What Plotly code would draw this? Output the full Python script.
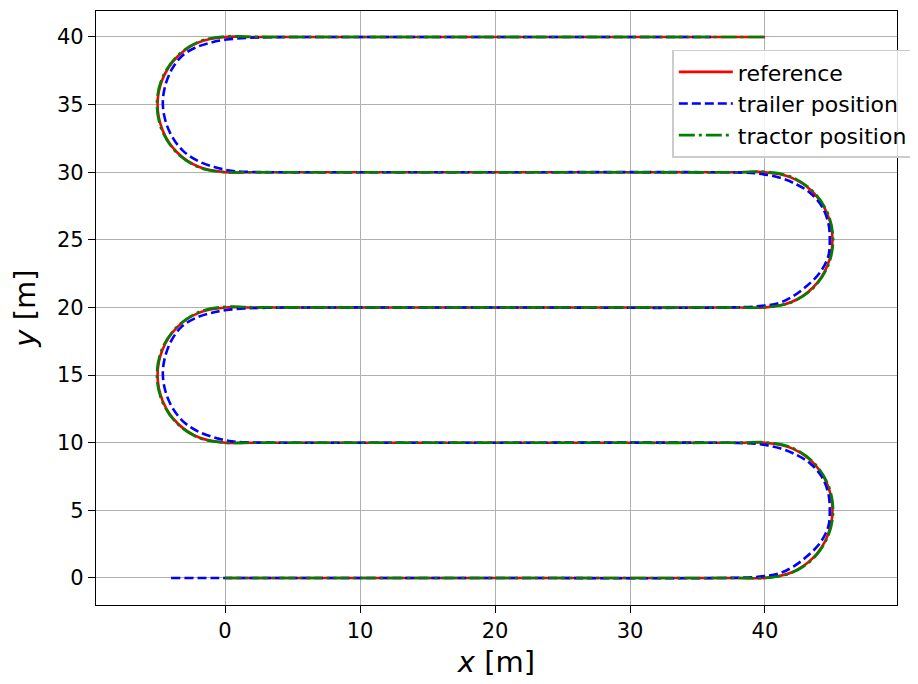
import plotly.graph_objects as go

# Reference path
ref_x = [0, 20, 38, 40, 41.91, 43.54, 44.62, 45, 44.62, 43.54, 41.91, 40, 38, 20, 2,
         0, -1.91, -3.54, -4.62, -5, -4.62, -3.54, -1.91, 0, 2, 20, 38,
         40, 41.91, 43.54, 44.62, 45, 44.62, 43.54, 41.91, 40, 38, 20, 2,
         0, -1.91, -3.54, -4.62, -5, -4.62, -3.54, -1.91, 0, 2, 20, 40]
ref_y = [0, 0, 0, 0, 0.38, 1.46, 3.09, 5, 6.91, 8.54, 9.62, 10, 10, 10, 10,
         10, 10.38, 11.46, 13.09, 15, 16.91, 18.54, 19.62, 20, 20, 20, 20,
         20, 20.38, 21.46, 23.09, 25, 26.91, 28.54, 29.62, 30, 30, 30, 30,
         30, 30.38, 31.46, 33.09, 35, 36.91, 38.54, 39.62, 40, 40, 40, 40]

# Trailer position
trailer_x = [-4, 20, 37, 39.6, 41.1, 42.1, 43.09, 44.07, 44.69, 44.8, 44.69, 44.2, 43.33, 42.35, 41.11, 39.5, 38, 36,
             20, 4, 2, 0.5, -0.74, -1.98, -3.09, -3.95, -4.44, -4.61, -4.44, -3.95, -3.21, -2.22, -1.11, 0.12, 1.85, 4, 6,
             20, 37, 39.6, 41.1, 42.1, 43.09, 44.07, 44.69, 44.8, 44.69, 44.2, 43.33, 42.35, 41.11, 39.5, 38, 36,
             20, 4, 2, 0.5, -0.74, -1.98, -3.09, -3.95, -4.44, -4.61, -4.44, -3.95, -3.21, -2.22, -1.11, 0.12, 1.85, 4, 6,
             20, 36]
trailer_y = [0, 0, 0, 0.1, 0.35, 0.84, 1.58, 2.57, 3.79, 5.03, 6.26, 7.49, 8.48, 9.09, 9.59, 9.9, 9.98, 10,
             10, 10, 10.02, 10.1, 10.37, 10.82, 11.56, 12.67, 13.9, 15.13, 16.36, 17.6, 18.58, 19.2, 19.57, 19.81, 19.94, 19.99, 20,
             20, 20, 20.1, 20.35, 20.84, 21.58, 22.57, 23.79, 25.03, 26.26, 27.49, 28.48, 29.09, 29.59, 29.9, 29.98, 30,
             30, 30, 30.02, 30.1, 30.37, 30.82, 31.56, 32.67, 33.9, 35.13, 36.36, 37.6, 38.58, 39.2, 39.57, 39.81, 39.94, 39.99, 40,
             40, 40]

# Tractor position
tractor_x = [0, 20, 38, 40, 41.93, 43.57, 44.67, 45.05, 44.67, 43.57, 41.93, 40, 38, 20, 2,
             0, -1.93, -3.57, -4.67, -5.05, -4.67, -3.57, -1.93, 0, 2, 20, 38,
             40, 41.93, 43.57, 44.67, 45.05, 44.67, 43.57, 41.93, 40, 38, 20, 2,
             0, -1.93, -3.57, -4.67, -5.05, -4.67, -3.57, -1.93, 0, 2, 20, 40]
tractor_y = [0, 0, 0, 0, 0.36, 1.43, 3.07, 5, 6.93, 8.57, 9.66, 10.03, 10, 10, 10,
             10, 10.36, 11.43, 13.07, 15, 16.93, 18.57, 19.66, 20.05, 20.02, 20, 20,
             20, 20.36, 21.43, 23.07, 25, 26.93, 28.57, 29.66, 30.03, 30, 30, 30,
             30, 30.36, 31.43, 33.07, 35, 36.93, 38.57, 39.66, 40.04, 40.01, 40, 40]

x_ticks = [0, 10, 20, 30, 40]
y_ticks = [0, 5, 10, 15, 20, 25, 30, 35, 40]

FONT = "DejaVu Sans, sans-serif"

fig = go.Figure()
fig.add_trace(go.Scatter(x=ref_x, y=ref_y, mode="lines", name="reference",
                         legendgroup="a",
                         line=dict(color="#ff0000", width=2.6, shape="spline", smoothing=1)))
fig.add_trace(go.Scatter(x=trailer_x, y=trailer_y, mode="lines", name="trailer position",
                         legendgroup="b",
                         line=dict(color="#0000ff", width=2.6, dash="9px,4px", shape="spline", smoothing=1)))
fig.add_trace(go.Scatter(x=tractor_x, y=tractor_y, mode="lines", name="tractor position",
                         legendgroup="c",
                         line=dict(color="#008000", width=2.6, dash="16px,4px,3px,4px", shape="spline", smoothing=1)))

axis_common = dict(
    showline=True, mirror=True, linecolor="black", linewidth=1.3,
    showgrid=True, gridcolor="#b0b0b0", gridwidth=1.3,
    zeroline=False, ticks="outside", ticklen=7, tickwidth=1.3, tickcolor="black",
    tickfont=dict(family=FONT, size=21, color="black"),
)

fig.update_xaxes(range=[-9.56, 49.78], tickvals=x_ticks,
                 title=dict(text="<i>x</i> [m]", font=dict(family=FONT, size=29, color="black"), standoff=9),
                 **axis_common)
fig.update_yaxes(range=[-2.0, 41.92], tickvals=y_ticks,
                 title=dict(text="<i>y</i> [m]", font=dict(family=FONT, size=29, color="black"), standoff=12),
                 **axis_common)

fig.update_layout(
    width=910, height=676,
    margin=dict(l=88, r=21, t=3, b=79),
    plot_bgcolor="white", paper_bgcolor="white",
    font=dict(family=FONT, size=21, color="black"),
    showlegend=True,
    legend=dict(x=0.7195, y=0.935, xanchor="left", yanchor="top",
                bgcolor="rgba(255,255,255,0.85)", bordercolor="#cccccc", borderwidth=1.5,
                font=dict(family=FONT, size=22, color="black"),
                itemwidth=54,
                traceorder="grouped", tracegroupgap=0),
)

fig.write_html("out.html")
